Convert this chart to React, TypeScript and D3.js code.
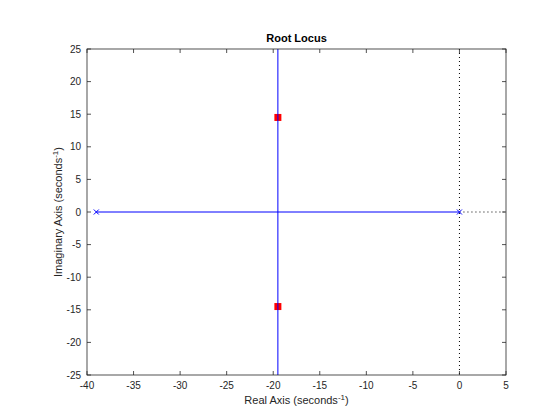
import * as d3 from 'd3';

const poles = [-39, 0];
const breakaway = -19.5;
const closedLoop = [14.5, -14.5];
const xTicks = [-40, -35, -30, -25, -20, -15, -10, -5, 0, 5];
const yTicks = [-25, -20, -15, -10, -5, 0, 5, 10, 15, 20, 25];

export default function App() {
  const W = 560, H = 420;
  const m = { l: 87, r: 54, t: 49, b: 45 };
  const x = d3.scaleLinear().domain([-40, 5]).range([m.l, W - m.r]);
  const y = d3.scaleLinear().domain([-25, 25]).range([H - m.b, m.t]);
  const font = 'Helvetica, Arial, sans-serif';
  const tk = 4;
  return (
    <svg width={W} height={H} style={{ position: 'absolute', left: 0, top: 0, fontFamily: font }}>
      <rect width={W} height={H} fill="#fff" />
      {/* dotted axes */}
      <line x1={x(0)} x2={x(0)} y1={y(25)} y2={y(-25)} stroke="#000" strokeWidth={1} strokeDasharray="1 3" />
      <line x1={x(0)} x2={x(5)} y1={y(0)} y2={y(0)} stroke="#000" strokeWidth={1} strokeDasharray="1 3" />
      {/* locus branches */}
      <line x1={x(poles[0])} x2={x(poles[1])} y1={y(0)} y2={y(0)} stroke="#0000ff" strokeWidth={1} />
      {closedLoop.map((v, i) => (
        <rect key={i} x={x(breakaway) - 3.5} y={y(v) - 3.5} width={7} height={7} fill="#ff0000" />
      ))}
      <line x1={x(breakaway)} x2={x(breakaway)} y1={y(25)} y2={y(-25)} stroke="#0000ff" strokeWidth={1} />
      {poles.map((p, i) => (
        <g key={i} stroke="#0000ff" strokeWidth={1}>
          <line x1={x(p) - 2.5} x2={x(p) + 2.5} y1={y(0) - 2.5} y2={y(0) + 2.5} />
          <line x1={x(p) - 2.5} x2={x(p) + 2.5} y1={y(0) + 2.5} y2={y(0) - 2.5} />
        </g>
      ))}
      {/* box */}
      <rect x={x(-40)} y={y(25)} width={x(5) - x(-40)} height={y(-25) - y(25)} fill="none" stroke="#262626" strokeWidth={0.8} />
      {xTicks.map(t => (
        <g key={t}>
          <line x1={x(t)} x2={x(t)} y1={y(-25)} y2={y(-25) - tk} stroke="#262626" strokeWidth={0.8} />
          <line x1={x(t)} x2={x(t)} y1={y(25)} y2={y(25) + tk} stroke="#262626" strokeWidth={0.8} />
          <text x={x(t)} y={y(-25) + 14} fontSize={10} textAnchor="middle" fill="#262626">{t}</text>
        </g>
      ))}
      {yTicks.map(t => (
        <g key={t}>
          <line x1={x(-40)} x2={x(-40) + tk} y1={y(t)} y2={y(t)} stroke="#262626" strokeWidth={0.8} />
          <line x1={x(5)} x2={x(5) - tk} y1={y(t)} y2={y(t)} stroke="#262626" strokeWidth={0.8} />
          <text x={x(-40) - 6} y={y(t) + 3.5} fontSize={10} textAnchor="end" fill="#262626">{t}</text>
        </g>
      ))}
      <text x={(x(-40) + x(5)) / 2} y={42} fontSize={11} fontWeight="bold" textAnchor="middle" fill="#000">Root Locus</text>
      <text x={(x(-40) + x(5)) / 2} y={404} fontSize={11} textAnchor="middle" fill="#262626">
        Real Axis (seconds<tspan dy={-4} fontSize={8}>-1</tspan><tspan dy={4}>)</tspan>
      </text>
      <text transform={`translate(62,${y(0)}) rotate(-90)`} fontSize={11} textAnchor="middle" fill="#262626">
        Imaginary Axis (seconds<tspan dy={-4} fontSize={8}>-1</tspan><tspan dy={4}>)</tspan>
      </text>
    </svg>
  );
}
